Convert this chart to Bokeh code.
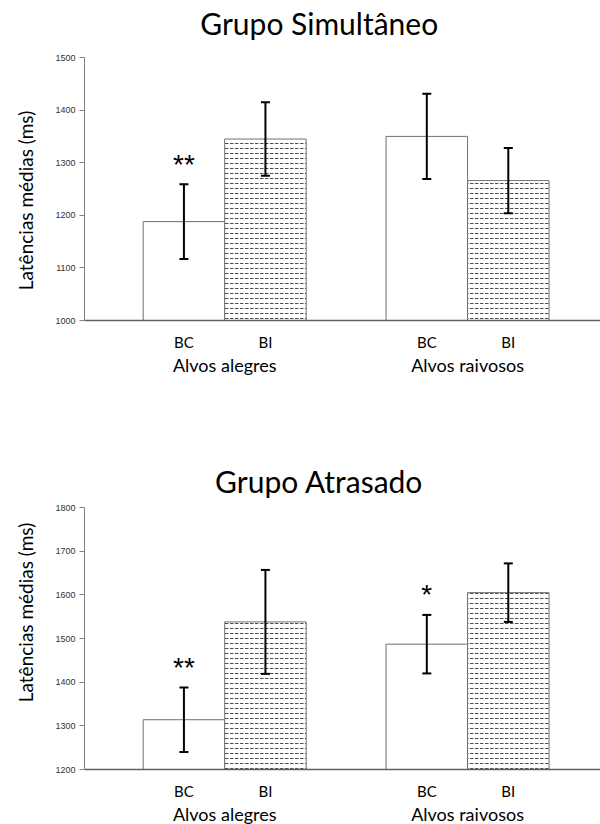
from bokeh.plotting import figure
from bokeh.models import Range1d, FixedTicker, ColumnDataSource, Span, LinearAxis
from bokeh.layouts import column
from bokeh.embed import file_html
from bokeh.resources import INLINE
from bokeh.core.properties import value

# ---------------- data ----------------
groups = ["Alvos alegres", "Alvos raivosos"]
conditions = ["BC", "BI"]

sim_title = "Grupo Simultâneo"
sim_means = [1188, 1345, 1350, 1266]
sim_se = [71, 70, 81, 62]
sim_sig = ["**", "", "", ""]
sim_yticks = [1000, 1100, 1200, 1300, 1400, 1500]

atr_title = "Grupo Atrasado"
atr_means = [1314, 1538, 1487, 1605]
atr_se = [74, 119, 67, 67]
atr_sig = ["**", "", "*", ""]
atr_yticks = [1200, 1300, 1400, 1500, 1600, 1700, 1800]

y_label = "Latências médias (ms)"

# ---------------- layout constants (pixels / data units) ----------------
FIG_W = 600
LEFT = 84
GROUP_CENTERS = [1.72, 4.70]
X_END = (FIG_W - LEFT) / 81.5
BAR_W = 1.0
TITLE_X = 2.88
YLABEL_SHIFT = 13     # pixels the axis title sits below the axis centre
FONT = "Lato"


def make_chart(title, means, se, sig, yticks, height, top_pad, bottom_pad, title_gap):
    xs = [round(gc + (j - 0.5) * BAR_W, 3) for gc in GROUP_CENTERS for j in range(len(conditions))]
    labels = [c for g in groups for c in conditions]
    hatch = ["blank", "horizontal_dash"] * len(groups)
    y0, y1 = yticks[0], yticks[-1]
    upp = (y1 - y0) / (height - top_pad - bottom_pad)   # data units per pixel

    src = ColumnDataSource(dict(
        x=xs, top=means,
        upper=[m + s for m, s in zip(means, se)],
        lower=[m - s for m, s in zip(means, se)],
        sig=sig, hatch=hatch, label=labels, base=[y0] * len(xs),
    ))
    gsrc = ColumnDataSource(dict(x=GROUP_CENTERS, y=[y0] * len(groups), text=groups))

    p = figure(width=FIG_W, height=height,
               x_range=Range1d(0, X_END),
               y_range=Range1d(y0 - bottom_pad * upp, y1 + top_pad * upp),
               x_axis_type=None,
               output_backend="svg", toolbar_location=None,
               min_border_left=LEFT, min_border_right=0,
               min_border_top=0, min_border_bottom=0)
    p.outline_line_color = None
    p.grid.visible = False
    p.background_fill_color = "white"
    p.border_fill_color = "white"

    p.vbar(x="x", top="top", bottom=y0, width=BAR_W, source=src,
           fill_color="white", line_color="#707070", line_width=1,
           hatch_pattern="hatch", hatch_color="#505050", hatch_scale=5,
           hatch_weight=1)

    # x axis line
    p.add_layout(Span(location=y0, dimension="width", line_color="#606060", line_width=1.5))

    # error bars
    p.segment(x0="x", y0="lower", x1="x", y1="upper", source=src,
              line_color="black", line_width=2)
    p.scatter(x="x", y="upper", marker="dash", size=9, source=src,
              line_color="black", line_width=2)
    p.scatter(x="x", y="lower", marker="dash", size=9, source=src,
              line_color="black", line_width=2)

    # significance stars
    p.text(x="x", y="upper", text="sig", source=src,
           text_align="center", text_baseline="middle", y_offset=-20,
           text_font=value("Liberation Sans"), text_font_size="28px",
           text_color="black")

    # title
    p.text(x=[TITLE_X], y=[y1], text=[title], y_offset=-title_gap,
           text_align="center", text_baseline="middle",
           text_font=value(FONT), text_font_size="30px", text_color="black")

    # condition labels
    p.text(x="x", y="base", text="label", source=src, y_offset=21,
           text_align="center", text_baseline="middle",
           text_font=value(FONT), text_font_size="15px", text_color="black")

    # group labels
    p.text(x="x", y="y", text="text", source=gsrc, y_offset=44,
           text_align="center", text_baseline="middle",
           text_font=value(FONT), text_font_size="18px", text_color="black")

    # y axis (ticks and line)
    ya = p.yaxis[0]
    ya.bounds = (y0, y1)
    ya.ticker = FixedTicker(ticks=yticks)
    ya.axis_line_color = "#808080"
    ya.major_tick_line_color = "#808080"
    ya.major_tick_out = 5
    ya.major_tick_in = 0
    ya.minor_tick_line_color = None
    ya.major_label_text_font = "Liberation Sans"
    ya.major_label_text_font_size = "9px"
    ya.major_label_text_color = "#333333"
    ya.major_label_standoff = 4

    # y axis title (separate axis, only carrying the label)
    la = LinearAxis(bounds=(y0 - YLABEL_SHIFT * upp, y1 - YLABEL_SHIFT * upp),
                    ticker=FixedTicker(ticks=[]))
    la.axis_line_color = None
    la.major_tick_line_color = None
    la.minor_tick_line_color = None
    la.major_label_text_font_size = "0px"
    la.axis_label = y_label
    la.axis_label_text_font = FONT
    la.axis_label_text_font_size = "19px"
    la.axis_label_text_font_style = "normal"
    la.axis_label_text_color = "black"
    la.axis_label_standoff = 16
    p.add_layout(la, "left")
    return p


p1 = make_chart(sim_title, sim_means, sim_se, sim_sig, sim_yticks, 400, 57, 80, 35)
p2 = make_chart(atr_title, atr_means, atr_se, atr_sig, atr_yticks, 424, 107, 55, 27)

layout = column(p1, p2, spacing=0)
open("out.html", "w").write(file_html(layout, INLINE))
